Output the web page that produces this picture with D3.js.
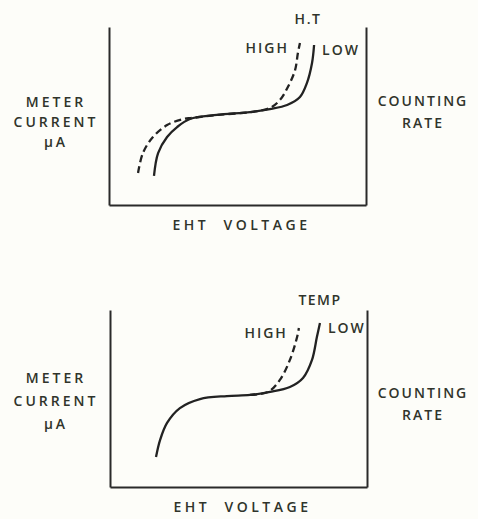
<!DOCTYPE html>
<html>
<head>
<meta charset="utf-8">
<script src="https://cdn.jsdelivr.net/npm/d3@7"></script>
<style>
  body { margin: 0; background: #fdfdf9; }
  text { font-family: "Open Sans", "Liberation Sans", Arial, sans-serif; font-weight: 600; fill: #30342b; }
</style>
</head>
<body>
<svg id="chart"></svg>
<script>
// curve values (x: EHT voltage, y: meter current, both 0-100)
const htLow = [
  [17.5, 16.3], [19.1, 29.2], [22.6, 38.2], [26.5, 43.8], [31.5, 48.3],
  [42.0, 50.6], [54.9, 52.2], [62.6, 53.9], [69.3, 56.2], [74.3, 60.7],
  [77.0, 68.5], [79.0, 79.8], [79.8, 89.9]
];
const htHigh = [
  [11.3, 18.0], [13.2, 29.2], [17.1, 38.2], [22.6, 44.9], [28.8, 48.3],
  [32.3, 48.9], [42.0, 50.6], [54.9, 52.2], [62.6, 54.5], [66.5, 59.0],
  [69.6, 66.3], [72.4, 75.8], [73.5, 85.4], [74.3, 91.0]
];
const tempLow = [
  [17.9, 16.9], [19.5, 26.6], [22.2, 36.2], [27.2, 44.6], [35.0, 49.7],
  [45.5, 51.4], [54.5, 52.0], [62.3, 53.7], [70.0, 56.5], [75.1, 61.6],
  [78.6, 71.8], [80.5, 84.7], [81.7, 92.7]
];
const tempHigh = [
  [54.5, 52.0], [61.5, 53.7], [66.1, 60.5], [70.0, 71.8], [72.8, 84.7], [73.5, 89.8]
];

const yLabelLines = ["METER", "CURRENT", "μA"];
const rateLabelLines = ["COUNTING", "RATE"];
const xLabel = "EHT  VOLTAGE";
const panelTitles = ["H.T", "TEMP"];
const curveLabels = ["HIGH", "LOW"];

const W = 478, H = 519;
const svg = d3.select("#chart").attr("width", W).attr("height", H);

function drawPanel(opts) {
  const x = d3.scaleLinear().domain([0, 100]).range([opts.left, opts.right]);
  const y = d3.scaleLinear().domain([0, 100]).range([opts.bottom, opts.top]);
  const g = svg.append("g");

  // box: left, right and bottom edges only (open at top)
  const axes = [
    [d3.axisLeft(y), `translate(${opts.left},0)`],
    [d3.axisRight(y), `translate(${opts.right},0)`],
    [d3.axisBottom(x), `translate(0,${opts.bottom})`]
  ];
  axes.forEach(([ax, tr]) => {
    g.append("g")
      .attr("transform", tr)
      .call(ax.ticks(0).tickSizeOuter(0))
      .call((s) => s.select(".domain").attr("stroke", "#2a2a2a").attr("stroke-width", 2));
  });

  const line = d3.line()
    .x((d) => x(d[0]))
    .y((d) => y(d[1]))
    .curve(d3.curveCatmullRom.alpha(0.5));

  g.append("path")
    .datum(opts.high)
    .attr("d", line)
    .attr("fill", "none")
    .attr("stroke", "#222")
    .attr("stroke-width", 2.3)
    .attr("stroke-dasharray", "7,4");

  g.append("path")
    .datum(opts.low)
    .attr("d", line)
    .attr("fill", "none")
    .attr("stroke", "#222")
    .attr("stroke-width", 2.3);

  // labels
  const hiEnd = opts.high[opts.high.length - 1];
  const loEnd = opts.low[opts.low.length - 1];
  g.append("text")
    .attr("x", opts.titleX).attr("y", opts.titleY)
    .attr("text-anchor", "middle")
    .attr("font-size", 14).attr("letter-spacing", 1.5)
    .text(opts.title);
  g.append("text")
    .attr("x", x(hiEnd[0]) - 11).attr("y", y(hiEnd[1]) + 10)
    .attr("text-anchor", "end")
    .attr("font-size", 14).attr("letter-spacing", 2)
    .text(curveLabels[0]);
  g.append("text")
    .attr("x", x(loEnd[0]) + 8).attr("y", y(loEnd[1]) + 10)
    .attr("font-size", 14).attr("letter-spacing", 2)
    .text(curveLabels[1]);

  g.append("text")
    .attr("x", (opts.left + opts.right) / 2 + 4).attr("y", opts.bottom + 25)
    .attr("text-anchor", "middle")
    .attr("font-size", 14).attr("letter-spacing", 3.5)
    .attr("xml:space", "preserve")
    .text(xLabel);

  yLabelLines.forEach((t, i) => {
    g.append("text")
      .attr("x", 56).attr("y", opts.yLabelY + i * opts.yLabelGap)
      .attr("text-anchor", "middle")
      .attr("font-size", 14).attr("letter-spacing", 3)
      .text(t);
  });
  rateLabelLines.forEach((t, i) => {
    g.append("text")
      .attr("x", 423).attr("y", opts.rateY + i * 22)
      .attr("text-anchor", "middle")
      .attr("font-size", 14).attr("letter-spacing", 2)
      .text(t);
  });
}

drawPanel({
  left: 109, right: 366, top: 27, bottom: 205,
  low: htLow, high: htHigh,
  title: panelTitles[0], titleX: 308, titleY: 24,
  yLabelY: 107, yLabelGap: 20, rateY: 106
});

drawPanel({
  left: 110, right: 367, top: 310, bottom: 487,
  low: tempLow, high: tempHigh,
  title: panelTitles[1], titleX: 320, titleY: 305,
  yLabelY: 383, yLabelGap: 23, rateY: 398
});
</script>
</body>
</html>
